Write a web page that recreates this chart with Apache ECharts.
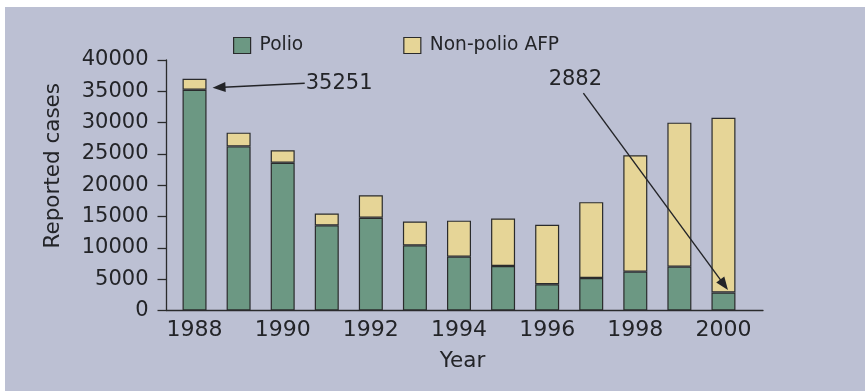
<!DOCTYPE html>
<html>
<head>
<meta charset="utf-8">
<script src="https://cdn.jsdelivr.net/npm/echarts@6/dist/echarts.min.js"></script>
<style>
html,body{margin:0;padding:0;background:#fff;}
#wrap{position:relative;width:865px;height:391px;background:#fff;overflow:hidden;}
#main{position:absolute;left:5px;top:7px;width:860px;height:384px;}
</style>
</head>
<body>
<div id="wrap"><div id="main"></div></div>
<script>
// ---- data ----
const years = ['1988','1989','1990','1991','1992','1993','1994','1995','1996','1997','1998','1999','2000'];
const polio = [35251, 26200, 23600, 13600, 14800, 10400, 8600, 7100, 4200, 5200, 6200, 7000, 2882];
const nonPolioAFP = [1750, 2200, 2000, 1900, 3600, 3800, 5750, 7600, 9500, 12100, 18600, 23000, 27900];
const seriesNames = ['Polio', 'Non-polio AFP'];
const yMin = 0, yMax = 40000, yStep = 5000;
const callouts = [
  { text: '35251', yearIndex: 0, value: 35251 },
  { text: '2882', yearIndex: 12, value: 2882 }
];

// ---- style ----
const FONT = 'DejaVu Sans';
const INK = '#232428';
const BG = '#bcc0d3';
const GREEN = '#6c9883';
const YELLOW = '#e6d597';
const EDGE = '#2a2b2c';

const chart = echarts.init(document.getElementById('main'), null, { renderer: 'canvas' });

const option = {
  backgroundColor: BG,
  animation: false,
  legend: {
    data: seriesNames,
    left: 228, top: 29, padding: 0,
    itemWidth: 17, itemHeight: 16, itemGap: 100,
    icon: 'rect',
    itemStyle: { borderColor: EDGE, borderWidth: 1.2 },
    textStyle: { fontFamily: FONT, fontSize: 18.6, color: INK, padding: [0, 0, 0, 4], lineHeight: 16 }
  },
  grid: [
    { left: 167.5, right: 119.5, top: 53, bottom: 80.5, containLabel: false },
    { left: 161.7, right: 102, top: 53, bottom: 80.5, containLabel: false }
  ],
  xAxis: [
    {
      type: 'category', gridIndex: 0, data: years, boundaryGap: true,
      axisLine: { show: false },
      axisTick: { show: false },
      axisLabel: { interval: 1, fontFamily: FONT, fontSize: 22, color: INK, margin: 9 },
      name: 'Year', nameLocation: 'middle', nameGap: 40,
      nameTextStyle: { fontFamily: FONT, fontSize: 21.5, color: INK, padding: [0, 0, 0, 7] }
    },
    {
      type: 'value', gridIndex: 1, min: 0, max: 1,
      axisLine: { show: true, lineStyle: { color: EDGE, width: 1.3 } },
      axisTick: { show: false }, axisLabel: { show: false }, splitLine: { show: false }
    }
  ],
  yAxis: [
    {
      type: 'value', gridIndex: 0, min: yMin, max: yMax, interval: yStep, offset: 6,
      axisLine: { show: true, lineStyle: { color: EDGE, width: 1.3 } },
      axisTick: { show: true, length: 9, lineStyle: { color: EDGE, width: 1.3 } },
      axisLabel: { fontFamily: FONT, fontSize: 21, color: INK, margin: 18, formatter: v => String(v) },
      splitLine: { show: false }
    },
    {
      type: 'value', gridIndex: 1, min: 0, max: 1, show: false
    }
  ],
  series: [
    {
      name: seriesNames[0], type: 'bar', stack: 'cases', data: polio,
      xAxisIndex: 0, yAxisIndex: 0, barWidth: 24,
      itemStyle: { color: GREEN, borderColor: EDGE, borderWidth: 1.2 }
    },
    {
      name: seriesNames[1], type: 'bar', stack: 'cases', data: nonPolioAFP,
      xAxisIndex: 0, yAxisIndex: 0, barWidth: 24,
      itemStyle: { color: YELLOW, borderColor: EDGE, borderWidth: 1.2 }
    }
  ]
};
chart.setOption(option);

// ---- callout arrows, positioned through the chart's own scales ----
function px(i, v) { return chart.convertToPixel({ gridIndex: 0 }, [i, v]); }
const band = px(1, 0)[0] - px(0, 0)[0];
const yPix = v => px(0, v)[1];

function arrow(tail, tip) {
  const dx = tip[0] - tail[0], dy = tip[1] - tail[1];
  const len = Math.sqrt(dx * dx + dy * dy);
  const ux = dx / len, uy = dy / len, nx = -uy, ny = ux;
  const L = 13, W = 5;
  const bx = tip[0] - L * ux, by = tip[1] - L * uy;
  return [
    { type: 'line', silent: true, z: 100,
      shape: { x1: tail[0], y1: tail[1], x2: bx + 2 * ux, y2: by + 2 * uy },
      style: { stroke: INK, lineWidth: 1.4 } },
    { type: 'polygon', silent: true, z: 100,
      shape: { points: [[tip[0], tip[1]], [bx + W * nx, by + W * ny], [bx - W * nx, by - W * ny]] },
      style: { fill: INK } }
  ];
}

const gfx = [];
// first callout: label to the right of the 1988 bar
{
  const c = callouts[0];
  const p = px(c.yearIndex, c.value);
  const tip = [p[0] + 12 + 6, p[1] - 2];
  const tail = [p[0] + 2.5 * band, p[1] - 6.5];
  gfx.push(...arrow(tail, tip));
  gfx.push({ type: 'text', silent: true, z: 100, x: tail[0] + 1, y: tail[1],
    style: { text: c.text, fontFamily: FONT, fontSize: 21, fill: INK, align: 'left', verticalAlign: 'middle' } });
}
// second callout: label above the 1996/1997 bars, arrow down to the 2000 polio segment
{
  const c = callouts[1];
  const p = px(c.yearIndex, c.value);
  const tip = [p[0] + 4.5, p[1] - 2.5];
  const tx = px(0, 0)[0] + 8.64 * band;
  const ty = yPix(36950);
  const tail = [tx + 8, ty + 14];
  gfx.push(...arrow(tail, tip));
  gfx.push({ type: 'text', silent: true, z: 100, x: tx, y: ty,
    style: { text: c.text, fontFamily: FONT, fontSize: 21, fill: INK, align: 'center', verticalAlign: 'middle' } });
}
// axis title
{
  const yc = (yPix(yMax) + yPix(yMin)) / 2 - 19.5;
  gfx.push({ type: 'text', silent: true, x: 48, y: yc, rotation: Math.PI / 2,
    style: { text: 'Reported cases', fontFamily: FONT, fontSize: 21.5, fill: INK, align: 'center', verticalAlign: 'middle' } });
}
chart.setOption({ graphic: gfx });
</script>
</body>
</html>
